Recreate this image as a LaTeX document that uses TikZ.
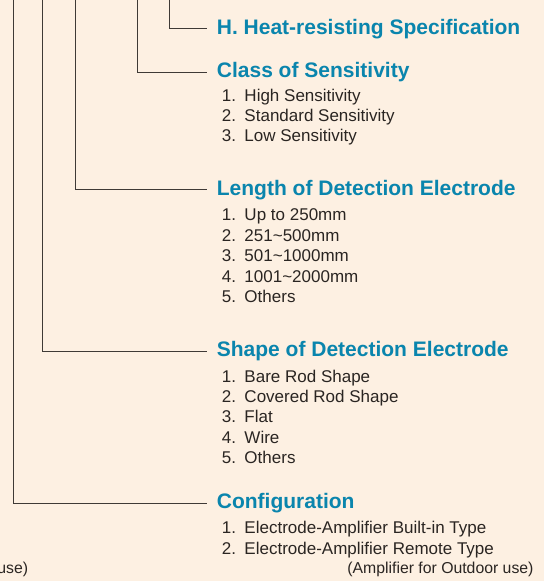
\documentclass[tikz,border=0pt]{standalone}
\usepackage{fontspec}
\setmainfont{Liberation Sans}
\definecolor{bgc}{HTML}{FDF0E2}
\definecolor{headc}{HTML}{0A85AD}
\definecolor{lnc}{HTML}{3F3A36}
\definecolor{txtc}{HTML}{2A2522}
\newcommand\itm[2]{\makebox[22.6pt][l]{#1}#2}
\begin{document}
\begin{tikzpicture}[x=1pt,y=-1pt,
  headtext/.style={anchor=base west, inner sep=0pt, font=\fontsize{21}{24}\selectfont\bfseries, text=headc},
  itemtext/.style={anchor=base west, inner sep=0pt, font=\fontsize{17}{20}\selectfont, text=txtc},
  notetext/.style={anchor=base east, inner sep=0pt, font=\fontsize{15.8}{18}\selectfont, text=txtc},
  conn/.style={draw=lnc, line width=1pt}]
\fill[bgc] (0,0) rectangle (544,581);
\useasboundingbox (0,0) rectangle (544,581);

% headings
\node[headtext] (hH) at (216.7,34) {H. Heat-resisting Specification};
\node[headtext] (hC) at (216.7,77.5) {Class of Sensitivity};
\node[headtext] (hL) at (216.7,195) {Length of Detection Electrode};
\node[headtext] (hS) at (216.7,356.5) {Shape of Detection Electrode};
\node[headtext] (hK) at (216.7,508.5) {Configuration};

% top ends of connectors
\coordinate (tH) at (169.5,0);
\coordinate (tC) at (137.3,0);
\coordinate (tL) at (75.7,0);
\coordinate (tS) at (42.8,0);
\coordinate (tK) at (13.3,0);

\draw[conn] (tH) |- ([xshift=-9.7pt,yshift=6pt]hH.base west);
\draw[conn] (tC) |- ([xshift=-9.7pt,yshift=5.5pt]hC.base west);
\draw[conn] (tL) |- ([xshift=-9.7pt,yshift=5.7pt]hL.base west);
\draw[conn] (tS) |- ([xshift=-9.7pt,yshift=5.5pt]hS.base west);
\draw[conn] (tK) |- ([xshift=-9.7pt,yshift=5.2pt]hK.base west);

% class items
\node[itemtext] (c1) at (221.7,101.7) {\itm{1.}{High Sensitivity}};
\node[itemtext] (c2) at (221.7,121.7) {\itm{2.}{Standard Sensitivity}};
\node[itemtext] (c3) at (221.7,141.7) {\itm{3.}{Low Sensitivity}};

% length items
\node[itemtext] (l1) at (221.7,220.8) {\itm{1.}{Up to 250mm}};
\node[itemtext] (l2) at (221.7,241.3) {\itm{2.}{251\char"007E 500mm}};
\node[itemtext] (l3) at (221.7,261.8) {\itm{3.}{501\char"007E 1000mm}};
\node[itemtext] (l4) at (221.7,282.3) {\itm{4.}{1001\char"007E 2000mm}};
\node[itemtext] (l5) at (221.7,302.8) {\itm{5.}{Others}};

% shape items
\node[itemtext] (s1) at (221.7,382.2) {\itm{1.}{Bare Rod Shape}};
\node[itemtext] (s2) at (221.7,402.5) {\itm{2.}{Covered Rod Shape}};
\node[itemtext] (s3) at (221.7,422.8) {\itm{3.}{Flat}};
\node[itemtext] (s4) at (221.7,443.1) {\itm{4.}{Wire}};
\node[itemtext] (s5) at (221.7,463.4) {\itm{5.}{Others}};

% configuration items
\node[itemtext] (k1) at (221.7,533.5) {\itm{1.}{Electrode-Amplifier Built-in Type}};
\node[itemtext] (k2) at (221.7,554) {\itm{2.}{Electrode-Amplifier Remote Type}};
\node[notetext] (k3) at (533.7,573.5) {(Amplifier for Outdoor use)};
\node[notetext] (n0) at (28.3,573.5) {use)};
\end{tikzpicture}
\end{document}
